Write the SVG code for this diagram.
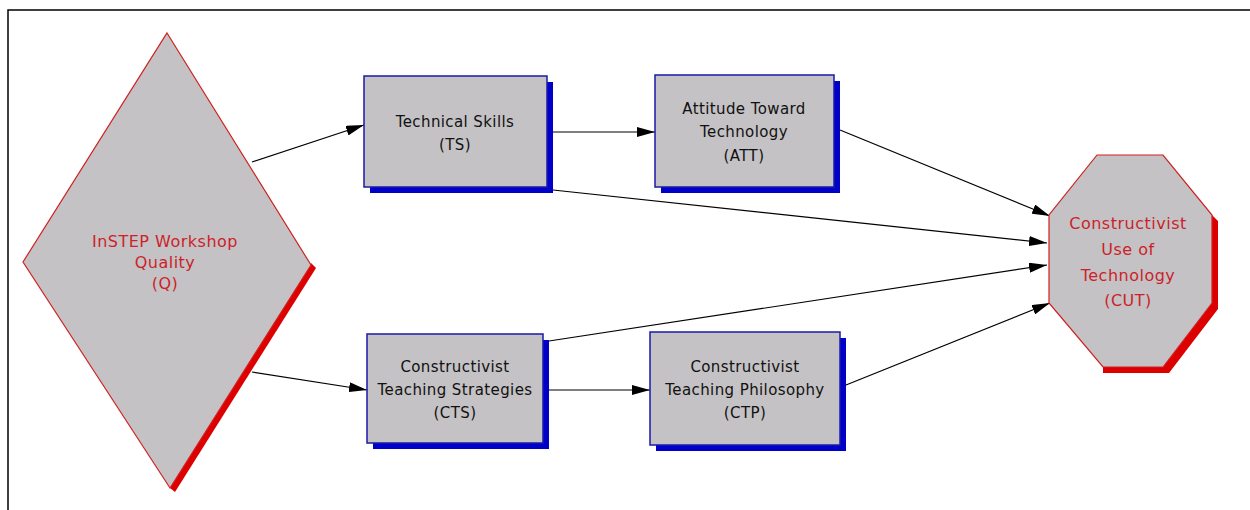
<svg xmlns="http://www.w3.org/2000/svg" width="1250" height="510" viewBox="0 0 1250 510">
<defs>
<style>
.box{fill:#c4c2c4;stroke:#1a1aa8;stroke-width:1.5}
.bsh{fill:#0000c8}
.red{fill:#c4c2c4;stroke:#d02020;stroke-width:1.2}
.rsh{fill:#dd0000}
.t{font-family:"DejaVu Sans",sans-serif;font-size:15px;letter-spacing:0.4px;text-anchor:middle;fill:#111}
.tr{font-family:"DejaVu Sans",sans-serif;font-size:16px;letter-spacing:0.5px;text-anchor:middle;fill:#cc1f2a}
.c{stroke:#000;stroke-width:1.2;fill:none;marker-end:url(#ah)}
</style>
<marker id="ah" viewBox="0 0 18 10" refX="18" refY="5" markerWidth="18" markerHeight="10" markerUnits="userSpaceOnUse" orient="auto">
<path d="M0,0 L18,5 L0,10 Z" fill="#000"/>
</marker>
</defs>
<rect width="1250" height="510" fill="#fff"/>
<path d="M8,510 L8,10 L1250,10" fill="none" stroke="#000" stroke-width="1.5"/>

<g id="connectors">
<line class="c" x1="252" y1="162" x2="364" y2="125"/>
<line class="c" x1="553" y1="132" x2="655" y2="132"/>
<line class="c" x1="840" y1="130" x2="1050" y2="216"/>
<line class="c" x1="553" y1="190" x2="1047" y2="243"/>
<line class="c" x1="549" y1="341" x2="1047" y2="265"/>
<line class="c" x1="846" y1="385" x2="1050" y2="303"/>
<line class="c" x1="252" y1="372" x2="367" y2="390"/>
<line class="c" x1="549" y1="390" x2="650" y2="390"/>
</g>

<g id="Q">
<polygon class="rsh" points="311,263 316,268 175,492 170,488"/>
<polygon class="red" points="167,33 311,265 170,488 23,262"/>
<text class="tr" x="165" y="247">InSTEP Workshop</text>
<text class="tr" x="165" y="268">Quality</text>
<text class="tr" x="165" y="289">(Q)</text>
</g>

<g id="TS">
<rect class="bsh" x="370" y="82" width="183" height="111"/>
<rect class="box" x="364" y="76" width="183" height="111"/>
<text class="t" x="455" y="127">Technical Skills</text>
<text class="t" x="455" y="150">(TS)</text>
</g>

<g id="ATT">
<rect class="bsh" x="661" y="81" width="179" height="112"/>
<rect class="box" x="655" y="75" width="179" height="112"/>
<text class="t" x="744" y="114">Attitude Toward</text>
<text class="t" x="744" y="137">Technology</text>
<text class="t" x="744" y="161">(ATT)</text>
</g>

<g id="CTS">
<rect class="bsh" x="373" y="340" width="176" height="109"/>
<rect class="box" x="367" y="334" width="176" height="109"/>
<text class="t" x="455" y="372">Constructivist</text>
<text class="t" x="455" y="395">Teaching Strategies</text>
<text class="t" x="455" y="418">(CTS)</text>
</g>

<g id="CTP">
<rect class="bsh" x="656" y="338" width="190" height="113"/>
<rect class="box" x="650" y="332" width="190" height="113"/>
<text class="t" x="745" y="372">Constructivist</text>
<text class="t" x="745" y="395">Teaching Philosophy</text>
<text class="t" x="745" y="418">(CTP)</text>
</g>

<g id="CUT">
<polygon class="rsh" points="1212,215 1218,221 1218,309 1169,373 1103,373 1103,367 1163,367 1212,303"/>
<polygon class="red" points="1097,155 1163,155 1212,215 1212,303 1163,367 1103,367 1049,303 1049,215"/>
<text class="tr" x="1128" y="229">Constructivist</text>
<text class="tr" x="1128" y="255">Use of</text>
<text class="tr" x="1128" y="281">Technology</text>
<text class="tr" x="1128" y="306">(CUT)</text>
</g>
</svg>
